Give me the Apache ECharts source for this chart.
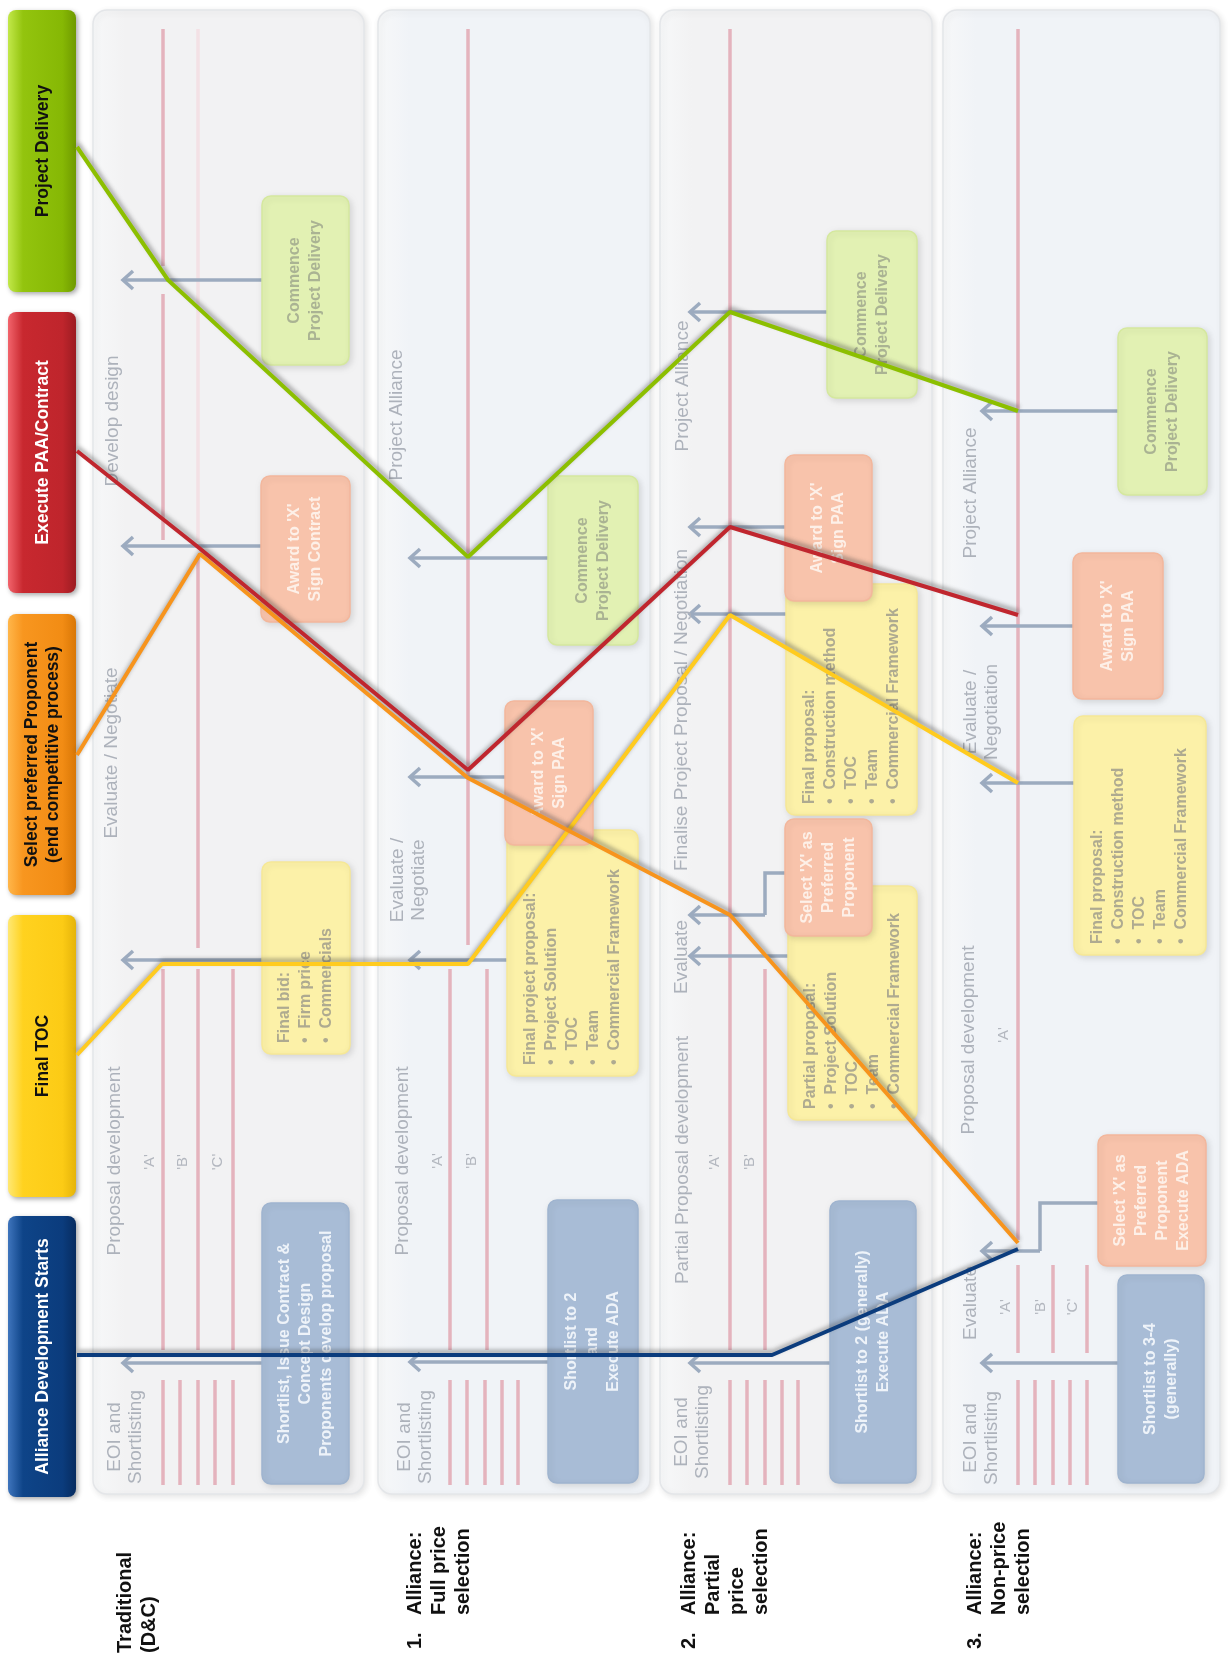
<!DOCTYPE html>
<html>
<head>
<meta charset="utf-8">
<script src="https://cdn.jsdelivr.net/npm/echarts@6/dist/echarts.min.js"></script>
<style>
html, body { margin: 0; padding: 0; background: #fff; }
#main { width: 1232px; height: 1655px; }
</style>
</head>
<body>
<div id="main"></div>
<script>
// ---- data (diagram units) ----
const milestoneNames = ['Project Delivery', 'Execute PAA/Contract', 'Select preferred Proponent\n(end competitive process)', 'Final TOC', 'Alliance Development Starts']
const milestoneRects = [[8, 10, 76, 292], [8, 312, 76, 593], [8, 614, 76, 895], [8, 915, 76, 1197], [8, 1216, 76, 1497]]

// path of each milestone through the four lanes
const pathDelivery = [[77, 147], [168, 280], [468, 557], [730, 312], [1018, 411]]
const pathExecute = [[77, 451], [198, 547], [468, 770], [730, 527], [1018, 615]]
const pathSelect = [[77, 755], [200, 554], [468, 778], [730, 915], [1018, 1243]]
const pathFinalToc = [[77, 1055], [162, 964], [468, 964], [730, 615], [1018, 783]]
const pathStart = [[77, 1355], [772, 1355], [1018, 1249]]

const rowNumbers = ['', '1.', '2.', '3.']
const rowTitles = ['Traditional\n(D&C)', 'Alliance:\nFull price\nselection', 'Alliance:\nPartial\nprice\nselection', 'Alliance:\nNon-price\nselection']
const rowAnchors = [[113, 1653], [403, 1649], [677, 1649], [963, 1649]]

const lanePanels = [[93, 10, 364, 1494], [378, 10, 650, 1494], [660, 10, 932, 1494], [943, 10, 1220, 1494]]

// proponent timelines: x, from, to, faint
const timelines = [
  [163, 29, 266, 0], [163, 294, 540, 0], [198, 29, 540, 1], [198, 556, 948, 0],
  [163, 969, 1350, 0], [198, 969, 1350, 0], [233, 969, 1350, 0],
  [163, 1380, 1485, 0], [180, 1380, 1485, 0], [198, 1380, 1485, 0], [215, 1380, 1485, 0], [233, 1380, 1485, 0],
  [468, 29, 945, 0], [450, 969, 1350, 0], [487, 969, 1350, 0],
  [450, 1380, 1485, 0], [467, 1380, 1485, 0], [485, 1380, 1485, 0], [502, 1380, 1485, 0], [518, 1380, 1485, 0],
  [730, 29, 1350, 0], [765, 969, 1350, 0],
  [730, 1380, 1485, 0], [747, 1380, 1485, 0], [765, 1380, 1485, 0], [782, 1380, 1485, 0], [798, 1380, 1485, 0],
  [1018, 29, 1240, 0], [1018, 1265, 1353, 0], [1053, 1265, 1353, 0], [1087, 1265, 1353, 0],
  [1018, 1380, 1485, 0], [1035, 1380, 1485, 0], [1053, 1380, 1485, 0], [1070, 1380, 1485, 0], [1087, 1380, 1485, 0]
]

// arrows: level, tip, start
const arrows = [
  [280, 123, 262], [546, 123, 262], [960, 123, 262], [1363, 123, 262],
  [558, 410, 548], [777, 410, 505], [960, 410, 507], [1362, 410, 548],
  [312, 690, 827], [527, 690, 785], [614, 690, 786], [915, 690, 765], [956, 690, 788], [1363, 690, 830],
  [411, 982, 1118], [626, 982, 1073], [783, 982, 1074], [1251, 982, 1040], [1363, 982, 1118]
]
const stepLinks = [
  [[765, 915], [765, 873], [785, 873]],
  [[1040, 1251], [1040, 1203], [1098, 1203]]
]

const boxRects = [
  [262, 196, 349, 365], [261, 476, 350, 622], [262, 862, 350, 1054], [262, 1203, 349, 1484],
  [548, 476, 638, 645], [507, 830, 638, 1076], [505, 701, 593, 845], [548, 1200, 638, 1483],
  [827, 231, 917, 398], [786, 584, 917, 815], [785, 455, 872, 601], [788, 886, 917, 1120], [785, 819, 872, 936], [830, 1201, 916, 1483],
  [1118, 328, 1207, 495], [1074, 716, 1206, 955], [1073, 553, 1163, 699], [1098, 1135, 1206, 1266], [1118, 1275, 1204, 1483]
]
const boxKinds = ['green', 'salmon', 'yellow', 'blue',
  'green', 'yellow', 'salmon', 'blue',
  'green', 'yellow', 'salmon', 'yellow', 'salmon', 'blue',
  'green', 'yellow', 'salmon', 'salmon', 'blue']
const boxTexts = [
  'Commence\nProject Delivery', "Award to 'X'\nSign Contract", 'Final bid:\n\u2022  Firm price\n\u2022  Commercials', 'Shortlist, Issue Contract &\nConcept Design\nProponents develop proposal',
  'Commence\nProject Delivery', 'Final project proposal:\n\u2022  Project Solution\n\u2022  TOC\n\u2022  Team\n\u2022  Commercial Framework', "Award to 'X'\nSign PAA", 'Shortlist to 2\nand\nExecute ADA',
  'Commence\nProject Delivery', 'Final proposal:\n\u2022  Construction method\n\u2022  TOC\n\u2022  Team\n\u2022  Commercial Framework', "Award to 'X'\nSign PAA",
  'Partial proposal:\n\u2022  Project Solution\n\u2022  TOC\n\u2022  Team\n\u2022  Commercial Framework', "Select 'X' as\nPreferred\nProponent", 'Shortlist to 2 (generally)\nExecute ADA',
  'Commence\nProject Delivery', 'Final proposal:\n\u2022  Construction method\n\u2022  TOC\n\u2022  Team\n\u2022  Commercial Framework', "Award to 'X'\nSign PAA",
  "Select 'X' as\nPreferred\nProponent\nExecute ADA", 'Shortlist to 3-4\n(generally)'
]

const phasePos = [
  [125, 1437], [115, 1161], [112, 753], [113, 421],
  [415, 1437], [403, 1161], [408, 880], [397, 415],
  [692, 1432], [683, 1160], [682, 957], [682, 710], [683, 386],
  [981, 1438], [971, 1303], [969, 1040], [981, 712], [971, 493]
]
const phaseTexts = [
  'EOI and\nShortlisting', 'Proposal development', 'Evaluate / Negotiate', 'Develop design',
  'EOI and\nShortlisting', 'Proposal development', 'Evaluate /\nNegotiate', 'Project Alliance',
  'EOI and\nShortlisting', 'Partial Proposal development', 'Evaluate', 'Finalise Project Proposal / Negotiation', 'Project Alliance',
  'EOI and\nShortlisting', 'Evaluate', 'Proposal development', 'Evaluate /\nNegotiation', 'Project Alliance'
]

const letterPos = [[150, 1162], [183, 1162], [218, 1162], [438, 1161], [472, 1161], [715, 1162], [750, 1162], [1004, 1035], [1006, 1307], [1041, 1307], [1073, 1307]]
const letterTexts = ["'A'", "'B'", "'C'", "'A'", "'B'", "'A'", "'B'", "'A'", "'A'", "'B'", "'C'"]

// ---- styles ----
const FONT = '"Liberation Sans", Arial, Helvetica, sans-serif'
const milestoneFill = [
  ['#c2e84a', '#93c40e', '#86b804', '#6f9a00'],
  ['#f2646c', '#c8282f', '#bf252c', '#9c1c22'],
  ['#ffb64a', '#f8961f', '#f28c14', '#d97706'],
  ['#ffe873', '#ffd21f', '#fccb15', '#e5b40a'],
  ['#3f75bd', '#0e4488', '#0b3c7d', '#072c60']
]
const milestoneTextColor = ['#111', '#fff', '#111', '#111', '#fff']
const lineColors = ['#8cbf00', '#c0262e', '#f7941d', '#ffcb1f', '#0b3c7d']
const boxStyle = {
  green: { fill: '#e2f1b3', stroke: '#d5e89e', text: '#aab393' },
  salmon: { fill: '#f8c3ab', stroke: '#f3b79c', text: '#fdf0e8' },
  yellow: { fill: '#fcf1a8', stroke: '#f6e896', text: '#aeaa90' },
  blue: { fill: '#a8bcd6', stroke: '#9fb4cf', text: '#eef3f9' }
}
const panelFill = ['#f2f2f3', '#f0f3f7', '#f2f2f3', '#f0f3f7']

function rectOf(api) {
  const a = api.coord([api.value(0), api.value(1)])
  const b = api.coord([api.value(2), api.value(3)])
  return { x: a[0], y: a[1], width: b[0] - a[0], height: b[1] - a[1] }
}

function rotText(x, y, text, opts) {
  return {
    type: 'text',
    x: x,
    y: y,
    rotation: Math.PI / 2,
    style: Object.assign({ text: text, align: 'center', verticalAlign: 'middle' }, opts)
  }
}

const chart = echarts.init(document.getElementById('main'))

const option = {
  animation: false,
  backgroundColor: '#ffffff',
  grid: { left: 0, right: 0, top: 0, bottom: 0 },
  xAxis: { type: 'value', min: 0, max: 1232, show: false },
  yAxis: { type: 'value', min: 0, max: 1655, inverse: true, show: false },
  series: [
    {
      name: 'lanes',
      type: 'custom',
      z: 1,
      clip: false,
      encode: { x: [0, 2], y: [1, 3] },
      data: lanePanels,
      renderItem: function(params, api) {
        const r = rectOf(api)
        return {
          type: 'rect',
          shape: { x: r.x, y: r.y, width: r.width, height: r.height, r: 14 },
          style: {
            fill: {
              type: 'linear', x: 0, y: 0, x2: 1, y2: 0,
              colorStops: [
                { offset: 0, color: '#f7f8f9' },
                { offset: 0.12, color: panelFill[params.dataIndex] },
                { offset: 1, color: panelFill[params.dataIndex] }
              ]
            },
            stroke: '#e4e6e9',
            lineWidth: 1.5,
            shadowBlur: 6,
            shadowColor: 'rgba(0,0,0,0.10)',
            shadowOffsetX: 2,
            shadowOffsetY: 2
          }
        }
      }
    },
    {
      name: 'timelines',
      type: 'custom',
      z: 2,
      clip: false,
      encode: { x: 0, y: [1, 2] },
      data: timelines,
      renderItem: function(params, api) {
        const a = api.coord([api.value(0), api.value(1)])
        const b = api.coord([api.value(0), api.value(2)])
        const faint = api.value(3) === 1
        return {
          type: 'line',
          shape: { x1: a[0], y1: a[1], x2: b[0], y2: b[1] },
          style: { stroke: faint ? '#f3e1e5' : '#e4b3bd', lineWidth: 3.5 }
        }
      }
    },
    {
      name: 'arrows',
      type: 'custom',
      z: 3,
      clip: false,
      encode: { x: [1, 2], y: 0 },
      data: arrows,
      renderItem: function(params, api) {
        const tip = api.coord([api.value(1), api.value(0)])
        const start = api.coord([api.value(2), api.value(0)])
        const st = { stroke: '#9cabbf', lineWidth: 3.5, fill: null }
        return {
          type: 'group',
          children: [
            { type: 'line', shape: { x1: start[0], y1: start[1], x2: tip[0] + 2, y2: tip[1] }, style: st },
            { type: 'polyline', shape: { points: [[tip[0] + 10, tip[1] - 9], [tip[0], tip[1]], [tip[0] + 10, tip[1] + 9]] }, style: st }
          ]
        }
      }
    },
    {
      name: 'steps',
      type: 'custom',
      z: 3,
      clip: false,
      encode: { x: [0, 2, 4], y: [1, 3, 5] },
      data: stepLinks.map(s => [s[0][0], s[0][1], s[1][0], s[1][1], s[2][0], s[2][1]]),
      renderItem: function(params, api) {
        const pts = [0, 2, 4].map(k => api.coord([api.value(k), api.value(k + 1)]))
        return {
          type: 'polyline',
          shape: { points: pts },
          style: { stroke: '#9cabbf', lineWidth: 3.5, fill: null }
        }
      }
    },
    {
      name: 'boxes',
      type: 'custom',
      z: 4,
      clip: false,
      encode: { x: [0, 2], y: [1, 3] },
      data: boxRects,
      renderItem: function(params, api) {
        const i = params.dataIndex
        const r = rectOf(api)
        const s = boxStyle[boxKinds[i]]
        const bullets = boxTexts[i].indexOf('\u2022') >= 0
        const cx = r.x + r.width / 2
        const font = 'bold 16px ' + FONT
        const label = bullets
          ? rotText(cx, r.y + r.height - 11, boxTexts[i], { align: 'left', fill: s.text, font: font, lineHeight: 21 })
          : rotText(cx, r.y + r.height / 2, boxTexts[i], { fill: s.text, font: font, lineHeight: 21 })
        return {
          type: 'group',
          children: [
            {
              type: 'rect',
              shape: { x: r.x, y: r.y, width: r.width, height: r.height, r: 9 },
              style: {
                fill: s.fill,
                stroke: s.stroke,
                lineWidth: 1.5,
                shadowBlur: 6,
                shadowColor: 'rgba(0,0,0,0.12)',
                shadowOffsetX: 2,
                shadowOffsetY: 2
              }
            },
            label
          ]
        }
      }
    },
    {
      name: 'phases',
      type: 'custom',
      z: 4,
      clip: false,
      data: phasePos,
      renderItem: function(params, api) {
        const p = api.coord([api.value(0), api.value(1)])
        return rotText(p[0], p[1], phaseTexts[params.dataIndex], { fill: '#adb2bb', font: '19px ' + FONT, lineHeight: 21 })
      }
    },
    {
      name: 'letters',
      type: 'custom',
      z: 4,
      clip: false,
      data: letterPos,
      renderItem: function(params, api) {
        const p = api.coord([api.value(0), api.value(1)])
        return rotText(p[0], p[1], letterTexts[params.dataIndex], { fill: '#b3b7bf', font: '15px ' + FONT })
      }
    },
    {
      name: 'milestones',
      type: 'custom',
      z: 5,
      clip: false,
      encode: { x: [0, 2], y: [1, 3] },
      data: milestoneRects,
      renderItem: function(params, api) {
        const i = params.dataIndex
        const r = rectOf(api)
        const c = milestoneFill[i]
        return {
          type: 'group',
          children: [
            {
              type: 'rect',
              shape: { x: r.x, y: r.y, width: r.width, height: r.height, r: 8 },
              style: {
                fill: {
                  type: 'linear', x: 0, y: 0, x2: 1, y2: 0,
                  colorStops: [
                    { offset: 0, color: c[0] },
                    { offset: 0.22, color: c[1] },
                    { offset: 0.8, color: c[2] },
                    { offset: 1, color: c[3] }
                  ]
                },
                shadowBlur: 5,
                shadowColor: 'rgba(0,0,0,0.35)',
                shadowOffsetX: 2,
                shadowOffsetY: 2
              }
            },
            rotText(r.x + r.width / 2 + 1, r.y + r.height / 2, milestoneNames[i], {
              fill: milestoneTextColor[i],
              font: 'bold 17.5px ' + FONT,
              lineHeight: 21
            })
          ]
        }
      }
    },
    {
      name: 'rows',
      type: 'custom',
      z: 5,
      clip: false,
      data: rowAnchors,
      renderItem: function(params, api) {
        const i = params.dataIndex
        const p = api.coord([api.value(0), api.value(1)])
        const font = 'bold 20px ' + FONT
        const kids = []
        if (rowNumbers[i]) {
          kids.push(rotText(p[0], p[1], rowNumbers[i], { align: 'left', verticalAlign: 'top', fill: '#111', font: font, lineHeight: 24 }))
          kids.push(rotText(p[0], p[1] - 34, rowTitles[i], { align: 'left', verticalAlign: 'top', fill: '#111', font: font, lineHeight: 24 }))
        } else {
          kids.push(rotText(p[0], p[1], rowTitles[i], { align: 'left', verticalAlign: 'top', fill: '#111', font: font, lineHeight: 24 }))
        }
        return { type: 'group', children: kids }
      }
    },
    ...[pathStart, pathFinalToc, pathSelect, pathExecute, pathDelivery].map((path, k) => ({
      name: ['Alliance Development Starts', 'Final TOC', 'Select preferred Proponent', 'Execute PAA/Contract', 'Project Delivery'][k],
      type: 'line',
      z: 10,
      data: path,
      symbol: 'none',
      silent: true,
      lineStyle: {
        color: lineColors[4 - k],
        width: 4,
        shadowColor: 'rgba(60,60,60,0.45)',
        shadowBlur: 4,
        shadowOffsetX: 1,
        shadowOffsetY: -3
      }
    }))
  ]
}

chart.setOption(option)
</script>
</body>
</html>
